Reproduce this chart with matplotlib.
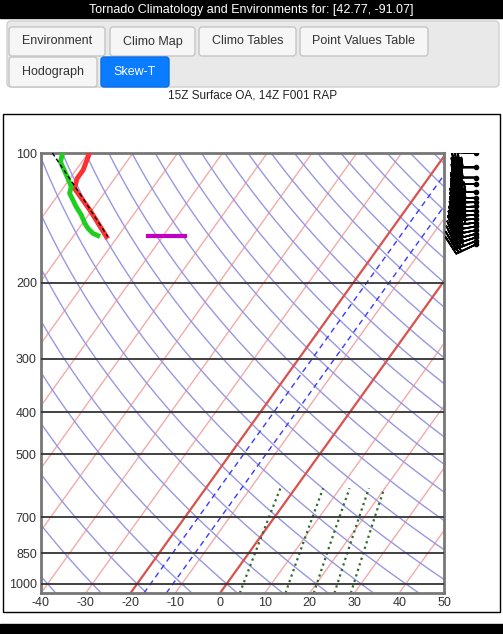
import numpy as np
import matplotlib
matplotlib.use("Agg")
import matplotlib.pyplot as plt
from matplotlib.patches import Rectangle, FancyBboxPatch

plt.rcParams['font.family'] = ['Liberation Sans', 'DejaVu Sans']
plt.rcParams['axes.unicode_minus'] = False

# --- texts ---
title = "Tornado Climatology and Environments for: [42.77, -91.07]"
tabs_row1 = ["Environment", "Climo Map", "Climo Tables", "Point Values Table"]
tabs_row2 = ["Hodograph", "Skew-T"]
subtitle = "15Z Surface OA, 14Z F001 RAP"

# --- axes values ---
p_levels = [100, 200, 300, 400, 500, 700, 850, 1000]
t_ticks = [-40, -30, -20, -10, 0, 10, 20, 30, 40, 50]
isotherms = list(range(-110, 60, 10))
bold_isotherms = [-20, 0]
dgz_isotherms = [-17, -12]
theta_c = list(range(-40, 240, 10))
mix_ratios = [5, 10, 15, 20, 25]

# --- sounding (T in C, p in hPa) ---
temp_p = [100, 109.5, 114.5, 120.8, 135.6, 156.4]
temp_t = [-99.7, -98.4, -98.4, -97.4, -90.5, -82.5]
dewp_p = [100, 104.8, 113.5, 119.7, 124.0, 133.2, 139.3, 145.6, 149.5, 153.6, 155.5]
dewp_t = [-105.7, -104.8, -100.9, -98.4, -97.7, -94.1, -91.6, -89.5, -88.0, -86.1, -84.6]
parcel_p = [100, 124.8, 156.4]
parcel_t = [-108.0, -95.1, -82.2]
marker_p = [155.8, 155.8]
marker_t = [-73.4, -65.1]

# --- winds (kt) ---
wind_p = [100, 108, 114, 118, 123, 127, 130, 133, 136, 139, 142, 145, 148, 151,
          154, 157, 160, 163]
wind_dir = [272, 270, 270, 270, 268, 268, 268, 266, 266, 265, 264, 262, 260, 258,
            255, 252, 248, 245]
wind_spd = [30, 35, 40, 40, 45, 45, 45, 45, 45, 45, 45, 45, 40, 40, 40, 35, 35, 30]

SKEW = 30.0
P_BOT = 1050.0


def skx(t, p):
    return np.asarray(t) + SKEW * np.log(P_BOT / np.asarray(p, dtype=float))


W, H = 503, 634
fig = plt.figure(figsize=(W / 100, H / 100), dpi=100)

# page chrome in pixel coords
bg = fig.add_axes([0, 0, 1, 1])
bg.set_xlim(0, W)
bg.set_ylim(H, 0)
bg.axis("off")
bg.add_patch(Rectangle((0, 0), W, 18, color="black"))
bg.text(W / 2, 9.5, title, color="white", ha="center", va="center", fontsize=9)
bg.add_patch(FancyBboxPatch((7, 21), 492, 66, boxstyle="round,pad=0,rounding_size=4",
                            fc="#e9e9e9", ec="#d0d0d0", lw=1))
row1 = [(9, 105), (110, 195), (199, 296), (300, 428)]
for (x0, x1), lab in zip(row1, tabs_row1):
    bg.add_patch(FancyBboxPatch((x0, 27), x1 - x0, 29, boxstyle="round,pad=0,rounding_size=3",
                                fc="#f6f6f6", ec="#c5c5c5", lw=1))
    bg.text((x0 + x1) / 2, 41.5, lab, ha="center", va="center", fontsize=9, color="#333333")
row2 = [(9, 97), (101, 169)]
for (x0, x1), lab in zip(row2, tabs_row2):
    on = lab == "Skew-T"
    bg.add_patch(FancyBboxPatch((x0, 57), x1 - x0, 30, boxstyle="round,pad=0,rounding_size=3",
                                fc="#0a7cff" if on else "#f6f6f6",
                                ec="#0a6ee0" if on else "#c5c5c5", lw=1))
    bg.text((x0 + x1) / 2, 72, lab, ha="center", va="center", fontsize=9,
            color="white" if on else "#333333")
bg.text(253, 95, subtitle, ha="center", va="center", fontsize=8.5, color="#222222")
bg.add_patch(Rectangle((3.5, 113.5), 497, 498, fc="white", ec="black", lw=1))
bg.add_patch(Rectangle((0, 624), W, 10, color="black"))

# skew-T axes
ax = fig.add_axes([41 / W, 1 - 593 / H, 403 / W, 440 / H])
ax.set_yscale("log")
ax.set_ylim(P_BOT, 100)
ax.set_xlim(-40, 50)

pp = np.geomspace(P_BOT, 100, 200)
for t in isotherms:
    ax.plot(skx(np.full_like(pp, t), pp), pp, color="#f3aaaa", lw=1, zorder=1)
for th in theta_c:
    tt = (th + 273.15) * (pp / 1000.0) ** 0.2857 - 273.15
    ax.plot(skx(tt, pp), pp, color="#9898e2", lw=1, zorder=1)
for t in bold_isotherms:
    ax.plot(skx(np.full_like(pp, t), pp), pp, color="#d9534f", lw=1.6, zorder=2)
for t in dgz_isotherms:
    ax.plot(skx(np.full_like(pp, t), pp), pp, color="#3a3aff", lw=1, ls=(0, (4, 3)), zorder=2)
pm = np.geomspace(P_BOT, 600, 60)
for w in mix_ratios:
    e = w * pm / (622.0 + w)
    lg = np.log(e / 6.112)
    td = 243.5 * lg / (17.67 - lg)
    ax.plot(skx(td, pm), pm, color="#2f6a2f", lw=1.6, ls=(0, (1, 1.6)), zorder=2)

for p in p_levels[1:]:
    ax.axhline(p, color="#333333", lw=1.3, zorder=3)

ax.plot(skx(temp_t, temp_p), temp_p, color="#ff3030", lw=3.5, zorder=4)
ax.plot(skx(dewp_t, dewp_p), dewp_p, color="#1ecf1e", lw=3.5, zorder=4)
ax.plot(skx(parcel_t, parcel_p), parcel_p, color="black", lw=1, ls=(0, (3, 2)), zorder=5)
ax.plot(skx(marker_t, marker_p), marker_p, color="#c000c0", lw=3, zorder=5)

ax.set_yticks(p_levels)
ax.set_yticklabels([str(p) for p in p_levels])
ax.yaxis.set_minor_locator(matplotlib.ticker.NullLocator())
ax.set_xticks(t_ticks)
ax.tick_params(length=0, labelsize=9, labelcolor="#333333", pad=3)
for s in ax.spines.values():
    s.set_color("#777777")
    s.set_linewidth(2)

# wind barbs
bx = fig.add_axes([445 / W, 1 - 593 / H, 50 / W, 440 / H])
bx.set_yscale("log")
bx.set_ylim(P_BOT, 100)
bx.set_xlim(0, 1)
bx.axis("off")
d = np.radians(wind_dir)
u = -np.array(wind_spd) * np.sin(d)
v = -np.array(wind_spd) * np.cos(d)
bx.barbs(np.full(len(wind_p), 0.62), wind_p, u, v, length=5.6, lw=1.3, color="black",
         sizes=dict(height=0.9, spacing=0.13))
bx.plot(np.full(len(wind_p), 0.62), wind_p, "o", color="black", ms=3)

fig.savefig("out.png", dpi=100)
